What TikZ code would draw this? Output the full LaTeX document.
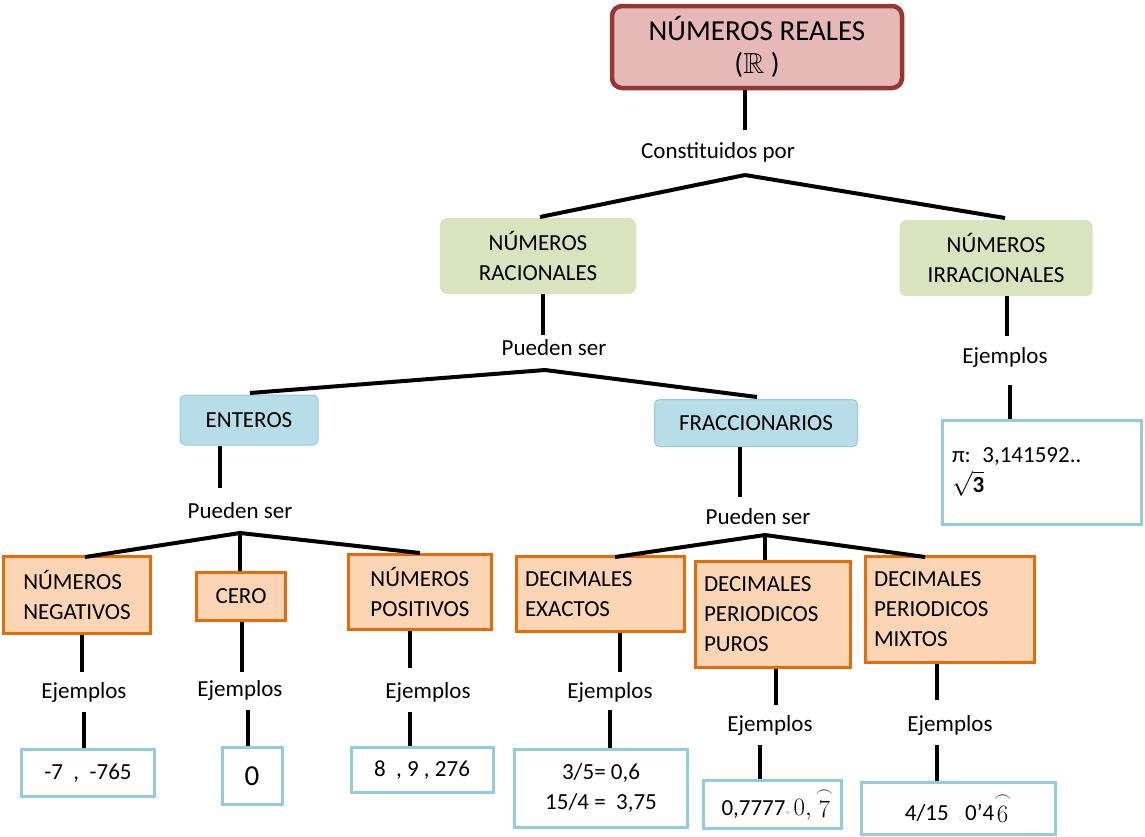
\documentclass[tikz,border=0pt]{standalone}
\usepackage{fontspec}
\usepackage{amssymb}
\setmainfont{Carlito}
\usetikzlibrary{positioning}
\definecolor{realfill}{HTML}{E6B8B7}
\definecolor{realdraw}{HTML}{953735}
\definecolor{greenfill}{HTML}{D7E4BD}
\definecolor{bluefill}{HTML}{B7DEE8}
\definecolor{bluedraw}{HTML}{93CDDD}
\definecolor{orfill}{HTML}{FCD5B4}
\definecolor{ordraw}{HTML}{E46C0A}
\tikzset{
  conn/.style={line width=4pt},
  lbl/.style={inner sep=1pt,font=\fontsize{23}{26}\selectfont},
  realbox/.style={draw=realdraw,fill=realfill,line width=4.5pt,rounded corners=10pt,align=center,font=\fontsize{29}{33}\selectfont},
  greenbox/.style={fill=greenfill,rounded corners=7pt,align=center,font=\fontsize{23}{30}\selectfont},
  bluebox/.style={draw=bluedraw,fill=bluefill,line width=1pt,rounded corners=5pt,font=\fontsize{23}{26}\selectfont},
  orbox/.style={draw=ordraw,fill=orfill,line width=3pt,align=left,inner sep=6pt,font=\fontsize{23}{30}\selectfont},
  exbox/.style={draw=bluedraw,fill=white,line width=3pt,align=center,font=\fontsize{23}{30}\selectfont},
}
\begin{document}
\begin{tikzpicture}[x=1pt,y=-1pt]
    \useasboundingbox (0,0) rectangle (1145,836);
    % top levels
    \node[realbox,minimum width=290pt,minimum height=82pt] (real) at (757,47) {NÚMEROS REALES\\($\mathbb{R}$ )};
    \node[lbl] (const) at (718,152) {Constituidos por};
    \node[greenbox,minimum width=196pt,minimum height=76pt] (rac) at (538,256) {NÚMEROS\\RACIONALES};
    \node[greenbox,minimum width=193pt,minimum height=76pt] (irr) at (996,258) {NÚMEROS\\IRRACIONALES};
    \draw[conn] (real.south -| 745,0) -- (745,130);
    \coordinate (cf) at (745,175);
    \draw[conn] (cf) -- (540,217);
    \draw[conn] (cf) -- (1005,218);
    % irracionales
    \node[lbl] (irrej) at (1005,357) {Ejemplos};
    \node[exbox,minimum width=199pt,minimum height=104pt,align=left,text width=180pt] (irrex) at (1042,472) {π: 3,141592..\\$\sqrt{\mathbf{3}}$};
    \draw[conn] (irr.south -| 1007,0) -- (1007,336);
    \draw[conn] (1010,385) -- (irrex.north -| 1010,0);
    % racionales
    \node[lbl] (prac) at (554,348) {Pueden ser};
    \node[bluebox,minimum width=138pt,minimum height=50pt] (ent) at (249,420) {ENTEROS};
    \node[bluebox,minimum width=203pt,minimum height=47pt] (fra) at (756,423) {FRACCIONARIOS};
    \draw[conn] (rac.south -| 543,0) -- (543,335);
    \coordinate (rf) at (545,370);
    \draw[conn] (rf) -- (250,393);
    \draw[conn] (rf) -- (757,397);
    % enteros
    \node[lbl] (pent) at (240,511) {Pueden ser};
    \node[orbox,minimum width=147pt,minimum height=77pt] (neg) at (77,595) {NÚMEROS\\NEGATIVOS};
    \node[orbox,minimum width=89pt,minimum height=48pt,font=\fontsize{23}{26}\selectfont] (cero) at (241,596) {CERO};
    \node[orbox,minimum width=143pt,minimum height=75pt] (pos) at (420,592) {NÚMEROS\\POSITIVOS};
    \draw[conn] (ent.south -| 220,0) -- (220,488);
    \coordinate (ef) at (240,533);
    \draw[conn] (ef) -- (85,557);
    \draw[conn] (ef) -- (cero.north -| 240,0);
    \draw[conn] (ef) -- (420,553);
    % fraccionarios
    \node[lbl] (pfra) at (758,517) {Pueden ser};
    \node[orbox,minimum width=168pt,minimum height=75pt,text width=150pt] (dec) at (600,594) {DECIMALES\\EXACTOS};
    \node[orbox,minimum width=155pt,minimum height=106pt,text width=138pt] (pur) at (773,614) {DECIMALES\\PERIODICOS\\PUROS};
    \node[orbox,minimum width=169pt,minimum height=106pt,text width=152pt] (mix) at (950,609) {DECIMALES\\PERIODICOS\\MIXTOS};
    \draw[conn] (fra.south -| 740,0) -- (740,497);
    \coordinate (ff) at (765,535);
    \draw[conn] (ff) -- (615,557);
    \draw[conn] (ff) -- (pur.north -| 765,0);
    \draw[conn] (ff) -- (925,557);
    % ejemplos
    \node[lbl] (negej) at (84,692) {Ejemplos};
    \node[lbl] (ceroej) at (240,690) {Ejemplos};
    \node[lbl] (posej) at (428,692) {Ejemplos};
    \node[lbl] (decej) at (610,692) {Ejemplos};
    \node[lbl] (purej) at (770,725) {Ejemplos};
    \node[lbl] (mixej) at (950,725) {Ejemplos};
    \node[exbox,minimum width=133pt,minimum height=47pt] (negex) at (88,773) {-7~~,~~-765};
    \node[exbox,minimum width=60pt,minimum height=57pt,font=\fontsize{29}{32}\selectfont] (ceroex) at (252,776) {0};
    \node[exbox,minimum width=142pt,minimum height=45pt] (posex) at (422,770) {8~~, 9 , 276};
    \node[exbox,minimum width=173pt,minimum height=78pt] (decex) at (601,788) {3/5= 0,6\\15/4 =~~3,75};
    \node[exbox,minimum width=138pt,minimum height=48pt] (purex) at (772,804) {~~0,7777{\color{gray}\footnotesize=}$\,0,\stackrel{\frown}{7}$};
    \node[exbox,minimum width=194pt,minimum height=52pt] (mixex) at (958,808) {4/15~~{\color{gray}\footnotesize:}\,0'4$\stackrel{\frown}{6}$};
    \draw[conn] (neg.south -| 82,0) -- (82,672);
    \draw[conn] (84,712) -- (negex.north -| 84,0);
    \draw[conn] (cero.south -| 242,0) -- (242,672);
    \draw[conn] (248,710) -- (ceroex.north -| 248,0);
    \draw[conn] (pos.south -| 410,0) -- (410,668);
    \draw[conn] (410,712) -- (posex.north -| 410,0);
    \draw[conn] (dec.south -| 620,0) -- (620,672);
    \draw[conn] (610,710) -- (decex.north -| 610,0);
    \draw[conn] (pur.south -| 776,0) -- (776,705);
    \draw[conn] (760,745) -- (purex.north -| 760,0);
    \draw[conn] (mix.south -| 937,0) -- (937,700);
    \draw[conn] (937,745) -- (mixex.north -| 937,0);
\end{tikzpicture}
\end{document}
